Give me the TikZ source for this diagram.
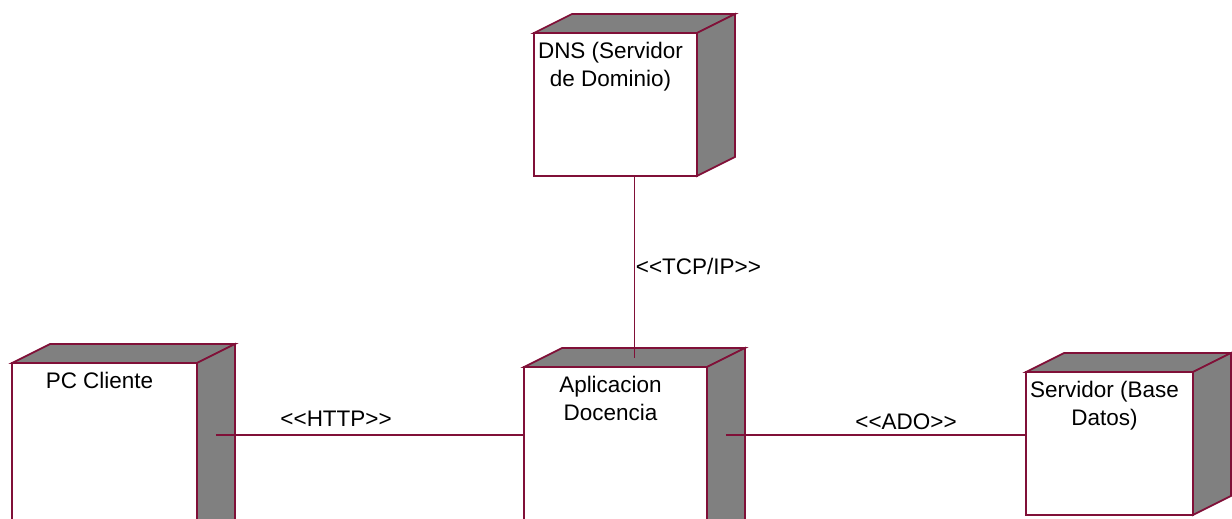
\documentclass[tikz,border=0pt]{standalone}
\usepackage{fontspec}
\setmainfont{Liberation Sans}
\usetikzlibrary{calc, math}
\definecolor{qmaroon}{RGB}{128,16,56}
\definecolor{qgray}{RGB}{128,128,128}
\newcommand{\stereo}[1]{<\kern0pt<#1>\kern0pt>}

\begin{document}
\begin{tikzpicture}[x=0.02cm, y=-0.02cm,
  devnode/.style={draw=qmaroon, line width=1pt, fill=white, inner sep=0pt, outer sep=0pt},
  nodetext/.style={anchor=north, align=center, inner sep=0pt, xshift=-0.1cm, yshift=-5pt, font=\fontsize{12.8}{15.9}\selectfont},
  devface/.style={fill=qgray, draw=qmaroon, line width=1pt},
  link/.style={draw=qmaroon, line width=0.6pt},
  linklabel/.style={font=\fontsize{12.8}{15.9}\selectfont}]
\tikzmath{
\dx=38;
\dy=19;
}
\useasboundingbox (0,0) rectangle (1232,519);
\clip (0,0) rectangle (1232,519);
% nodes (front faces)
\node[devnode, minimum width=3.26cm, minimum height=2.86cm, label={[nodetext]north:DNS (Servidor\\de Dominio)}] (dns) at (615.5,104.5) {};
\node[devnode, minimum width=3.7cm, minimum height=3.6cm, label={[nodetext]north:PC Cliente}] (pc) at (104.5,453) {};
\node[devnode, minimum width=3.66cm, minimum height=3.6cm, label={[nodetext]north:Aplicacion\\Docencia}] (app) at (615.5,457) {};
\node[devnode, minimum width=3.34cm, minimum height=2.86cm, label={[nodetext]north:Servidor (Base\\Datos)}] (srv) at (1109.5,443.5) {};
% top and side faces
\foreach \n in {dns,pc,app,srv} {
  \filldraw[devface] (\n.north west) -- ++(\dx,-\dy) -- ($(\n.north east)+(\dx,-\dy)$) -- (\n.north east) -- cycle;
  \filldraw[devface] (\n.north east) -- ++(\dx,-\dy) -- ($(\n.south east)+(\dx,-\dy)$) -- (\n.south east) -- cycle;
}
% connectors
\coordinate (pcport) at ($(pc.north east)+(\dx/2,72)$);
\coordinate (appport) at ($(app.east |- pcport)+(\dx/2,0)$);
\coordinate (apptop) at ($(app.north)+(\dx/2,-\dy/2)$);
\draw[link] (pcport) -- (app.west |- pcport) node[linklabel, pos=0.39, above, inner sep=4.5pt] {\stereo{HTTP}};
\draw[link] (appport) -- (srv.west |- appport) node[linklabel, pos=0.6, above, inner sep=2.8pt] {\stereo{ADO}};
\draw[link] (apptop) -- (apptop |- dns.south) node[linklabel, midway, right, inner sep=0.5pt] {\stereo{TCP/IP}};
\end{tikzpicture}
\end{document}
